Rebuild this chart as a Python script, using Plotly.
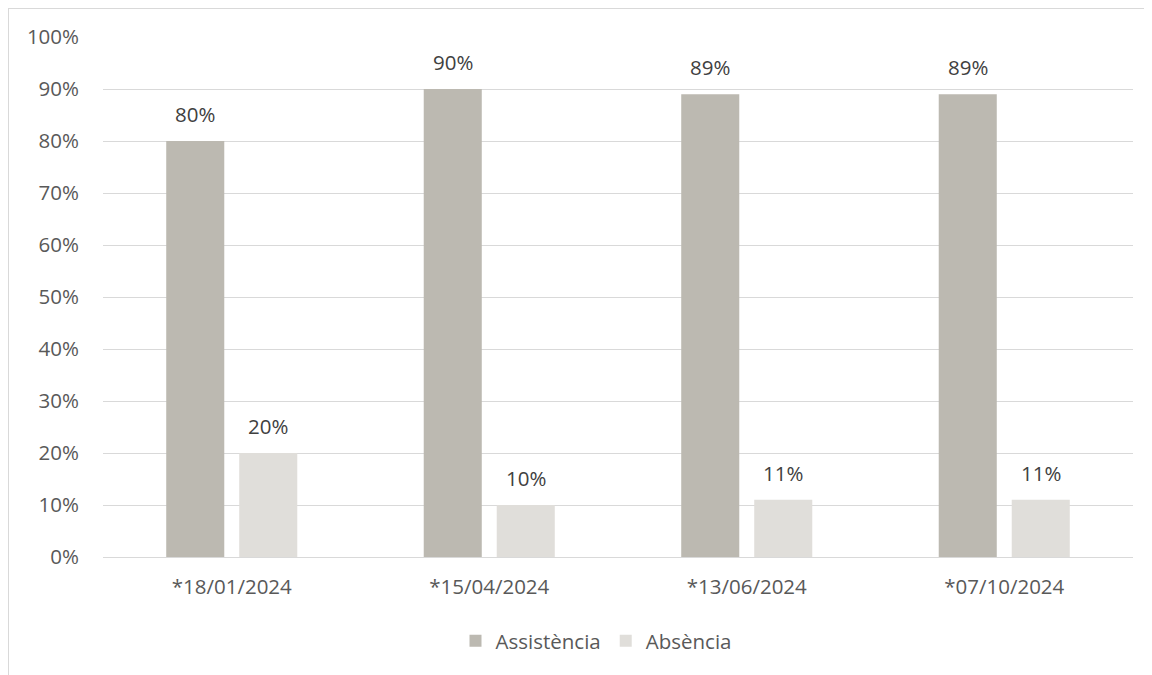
import plotly.graph_objects as go

categories = ["*18/01/2024", "*15/04/2024", "*13/06/2024", "*07/10/2024"]
assistencia = [0.80, 0.90, 0.89, 0.89]
absencia = [0.20, 0.10, 0.11, 0.11]
series_names = ["Assistència", "Absència"]
colors = ["#bcb9b1", "#e0deda"]
FONT = "Open Sans"
TXT = "#595959"
FS = 20.5

W, H = 1144, 667
ML, MR, MT, MB = 95, 19, 29, 118
PW, PH = W - ML - MR, H - MT - MB

fig = go.Figure()
for name, vals, col in zip(series_names, [assistencia, absencia], colors):
    fig.add_trace(go.Bar(
        x=categories, y=vals, name=name, marker=dict(color=col, line=dict(width=0)),
        hoverinfo="skip",
    ))

# data labels above the bars
bargap, bargroupgap = 0.433, 0.205
slot = (PW / len(categories)) * (1 - bargap) / 2
for i, vals in enumerate([assistencia, absencia]):
    xshift = (i - 0.5) * slot
    for c, v in zip(categories, vals):
        fig.add_annotation(x=c, y=v, xref="x", yref="y", text=f"{round(v*100)}%",
                           showarrow=False, yanchor="bottom", xanchor="center",
                           xshift=xshift, yshift=11,
                           font=dict(size=FS, color="#404040", family=FONT))

fig.update_layout(
    width=W, height=H,
    margin=dict(l=ML, r=MR, t=MT, b=MB),
    paper_bgcolor="white", plot_bgcolor="white",
    barmode="group", bargap=bargap, bargroupgap=bargroupgap,
    font=dict(family=FONT, color=TXT, size=FS),
    showlegend=True,
    legend=dict(orientation="h", x=0.5 - 22 / PW, xanchor="center", y=-(633 - 549) / PH,
                yanchor="middle",
                font=dict(size=FS, color=TXT, family=FONT), itemwidth=30,
                traceorder="normal"),
)
fig.update_yaxes(range=[0, 1], tickvals=[i/10 for i in range(11)],
                 ticktext=[f"{i*10}%" for i in range(11)],
                 showgrid=True, gridcolor="#d9d9d9", gridwidth=1, zeroline=False,
                 showline=False, ticks="", ticklabelstandoff=23,
                 tickfont=dict(size=FS, color=TXT, family=FONT))
fig.update_xaxes(showgrid=False, showline=True, linecolor="#d9d9d9", linewidth=1,
                 ticks="", ticklabelstandoff=11,
                 tickfont=dict(size=FS, color=TXT, family=FONT))

# outer chart border (top and left edges visible)
fig.add_shape(type="line", xref="paper", yref="paper",
              x0=(0.5 - ML) / PW, x1=(W - ML) / PW,
              y0=(H - MB - 0.5) / PH, y1=(H - MB - 0.5) / PH,
              line=dict(color="#d9d9d9", width=1))
fig.add_shape(type="line", xref="paper", yref="paper",
              x0=(0.5 - ML) / PW, x1=(0.5 - ML) / PW,
              y0=(H - MB) / PH, y1=-MB / PH,
              line=dict(color="#d9d9d9", width=1))

fig.write_html("out.html")
